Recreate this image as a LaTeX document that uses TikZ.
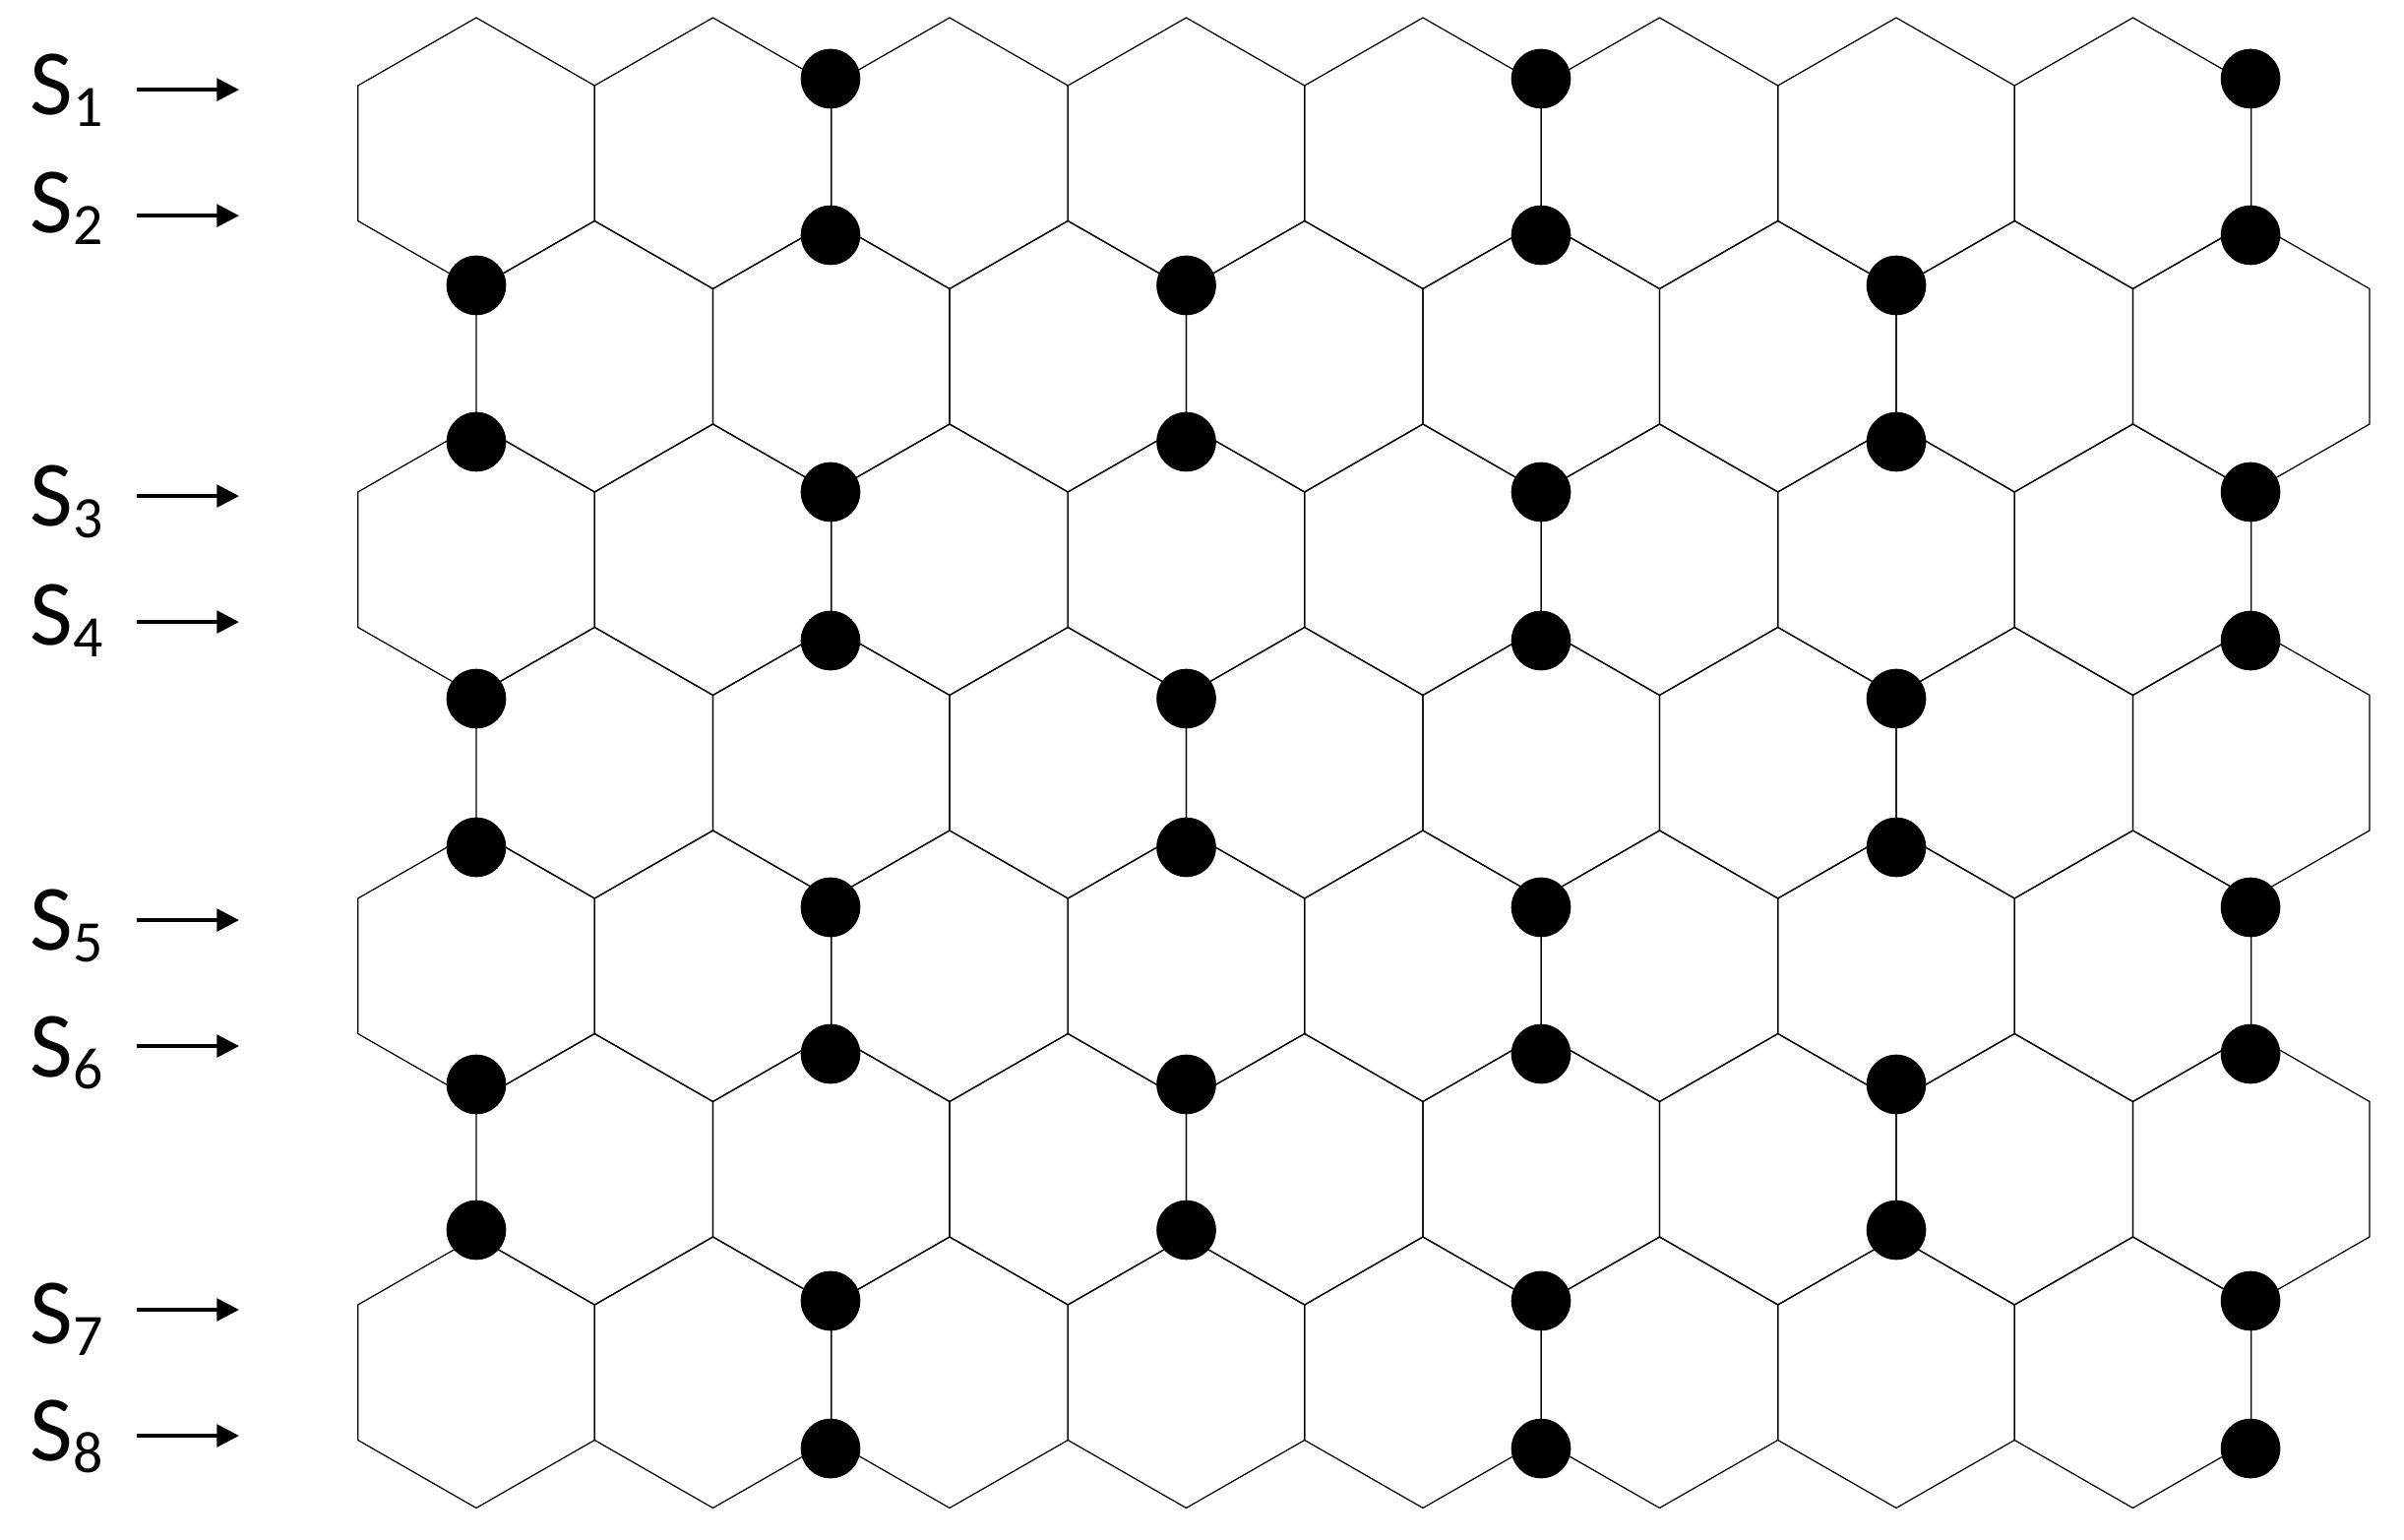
\documentclass[tikz,border=0pt]{standalone}
\usepackage{fontspec}
\setmainfont{Carlito}
\usepackage{tkz-graph}
\usetikzlibrary{arrows.meta}
\usetikzlibrary{shapes}

\newcommand{\labsub}[1]{\raisebox{-0.12cm}{\fontsize{17}{20}\selectfont #1}}

\begin{document}
\begin{tikzpicture}[scale = 10]
	\tikzstyle{VertexStyle} = []
	\tikzstyle{EdgeStyle} = []
	\tikzstyle{hexStyle}=[line width = 0.35pt, line join = miter]
	\tikzstyle{dotStyle}=[shape = circle, minimum size = 0.606cm, inner sep = 0pt, draw = none, fill = black]
	\tikzstyle{labStyle}=[anchor = base west, inner sep = 0pt, font = \fontsize{27}{32}\selectfont]
	\tikzstyle{arrStyle}=[line width = 1.1pt, -{Triangle[length = 6.4pt, width = 6.4pt]}]
	\useasboundingbox (0,0) rectangle (2.443,1.564);
	% honeycomb
	\foreach \r in {0,...,6} {
		\pgfmathsetmacro\yt{1.546 - 0.2065*\r}
		\pgfmathsetmacro\xo{0.484 + 0.12025*mod(\r,2)}
		\foreach \k in {0,...,7} {
			\pgfmathsetmacro\xc{\xo + 0.2405*\k}
			\draw[hexStyle] (\xc,\yt) -- ++(0.12025,-0.069) -- ++(0,-0.1375) -- ++(-0.12025,-0.069)
				-- ++(-0.12025,0.069) -- ++(0,0.1375) -- cycle;
		}
	}
	% dots, odd rows
	\foreach \c/\xx in {a/0.844, b/1.566, c/2.287} {
		\Vertex[style = dotStyle, NoLabel, x = \xx, y = 1.484]{d1\c}
		\Vertex[style = dotStyle, NoLabel, x = \xx, y = 1.325]{d2\c}
		\Vertex[style = dotStyle, NoLabel, x = \xx, y = 1.064]{d5\c}
		\Vertex[style = dotStyle, NoLabel, x = \xx, y = 0.913]{d6\c}
		\Vertex[style = dotStyle, NoLabel, x = \xx, y = 0.642]{d9\c}
		\Vertex[style = dotStyle, NoLabel, x = \xx, y = 0.493]{d10\c}
		\Vertex[style = dotStyle, NoLabel, x = \xx, y = 0.242]{d13\c}
		\Vertex[style = dotStyle, NoLabel, x = \xx, y = 0.092]{d14\c}
	}
	% dots, even rows
	\foreach \c/\xx in {a/0.484, b/1.2055, c/1.927} {
		\Vertex[style = dotStyle, NoLabel, x = \xx, y = 1.274]{d3\c}
		\Vertex[style = dotStyle, NoLabel, x = \xx, y = 1.115]{d4\c}
		\Vertex[style = dotStyle, NoLabel, x = \xx, y = 0.854]{d7\c}
		\Vertex[style = dotStyle, NoLabel, x = \xx, y = 0.703]{d8\c}
		\Vertex[style = dotStyle, NoLabel, x = \xx, y = 0.462]{d11\c}
		\Vertex[style = dotStyle, NoLabel, x = \xx, y = 0.314]{d12\c}
	}
	% sensor labels
	\node[labStyle] (s1) at (0.030,1.447) {S\labsub{1}};
	\node[labStyle] (s2) at (0.030,1.327) {S\labsub{2}};
	\node[labStyle] (s3) at (0.030,1.029) {S\labsub{3}};
	\node[labStyle] (s4) at (0.030,0.909) {S\labsub{4}};
	\node[labStyle] (s5) at (0.030,0.598) {S\labsub{5}};
	\node[labStyle] (s6) at (0.030,0.470) {S\labsub{6}};
	\node[labStyle] (s7) at (0.030,0.199) {S\labsub{7}};
	\node[labStyle] (s8) at (0.030,0.080) {S\labsub{8}};
	\foreach \i/\yy in {1/1.473, 2/1.345, 3/1.060, 4/0.932, 5/0.629, 6/0.501, 7/0.233, 8/0.105} {
		\coordinate (a\i) at (0.139,\yy);
		\coordinate (b\i) at (0.243,\yy);
		\draw[arrStyle] (a\i) -- (b\i);
	}
\end{tikzpicture}
\end{document}
